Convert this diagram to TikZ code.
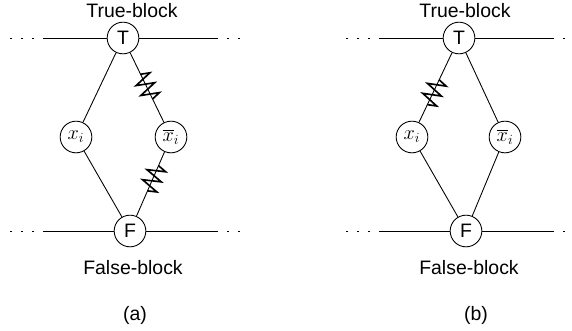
\documentclass[tikz,border=0pt]{standalone}
\usepackage{fontspec}
\setmainfont{Liberation Sans}
\usetikzlibrary{decorations.pathmorphing}
\tikzset{
  vtx/.style={draw,circle,minimum size=0.95cm,inner sep=0pt,fill=white,font=\fontsize{16.6}{20}\selectfont},
  lbl/.style={font=\fontsize{16.6}{20}\selectfont},
  zz/.style 2 args={postaction={decorate,draw,line width=1.4pt,
    decoration={zigzag,amplitude=0.27cm,segment length=0.33cm,pre=moveto,pre length=#1,post=moveto,post length=#2}}},
  dots/.style={dash pattern=on 0.06cm off 0.27cm,dash phase=0.06cm}
}

\begin{document}
\begin{tikzpicture}[x=0.03cm,y=-0.03cm,line width=0.75pt]
  \useasboundingbox (0,0) rectangle (572,330);
  % (a)
  \node[vtx] (Ta) at (123,38) {T};
  \node[vtx] (Xa) at (76,137) {$x_i$};
  \node[vtx] (Na) at (171,137) {$\overline{x}_i$};
  \node[vtx] (Fa) at (130,231) {F};
  \node[lbl] (topa) at (132,11) {True-block};
  \node[lbl] (bota) at (133,268) {False-block};
  \node[lbl] (capa) at (135,315) {(a)};
  \coordinate (tla) at (43,38);  \coordinate (tla0) at (8,38);
  \coordinate (tra) at (218,38); \coordinate (tra0) at (245,38);
  \coordinate (bla) at (43,231); \coordinate (bla0) at (8,231);
  \coordinate (bra) at (218,231); \coordinate (bra0) at (245,231);
  \draw (tla) -- (Ta) -- (tra);
  \draw (bla) -- (Fa) -- (bra);
  \draw[dots] (tla) -- (tla0);
  \draw[dots] (tra) -- (tra0);
  \draw[dots] (bla) -- (bla0);
  \draw[dots] (bra) -- (bra0);
  \draw (Ta) -- (Xa);
  \draw (Xa) -- (Fa);
  \draw[zz={0.72cm}{0.65cm}] (Ta) -- (Na);
  \draw[zz={0.45cm}{0.7cm}] (Na) -- (Fa);
  % (b)
  \node[vtx] (Tb) at (459,38) {T};
  \node[vtx] (Xb) at (412,137) {$x_i$};
  \node[vtx] (Nb) at (505,137) {$\overline{x}_i$};
  \node[vtx] (Fb) at (466,231) {F};
  \node[lbl] (topb) at (465,11) {True-block};
  \node[lbl] (botb) at (469,268) {False-block};
  \node[lbl] (capb) at (476,315) {(b)};
  \coordinate (tlb) at (379,38);  \coordinate (tlb0) at (344,38);
  \coordinate (trb) at (554,38);  \coordinate (trb0) at (572,38);
  \coordinate (blb) at (379,231); \coordinate (blb0) at (344,231);
  \coordinate (brb) at (554,231); \coordinate (brb0) at (572,231);
  \draw (tlb) -- (Tb) -- (trb);
  \draw (blb) -- (Fb) -- (brb);
  \draw[dots] (tlb) -- (tlb0);
  \draw[dots] (trb) -- (trb0);
  \draw[dots] (blb) -- (blb0);
  \draw[dots] (brb) -- (brb0);
  \draw[zz={0.9cm}{0.46cm}] (Tb) -- (Xb);
  \draw (Tb) -- (Nb);
  \draw (Xb) -- (Fb);
  \draw (Nb) -- (Fb);
\end{tikzpicture}
\end{document}
